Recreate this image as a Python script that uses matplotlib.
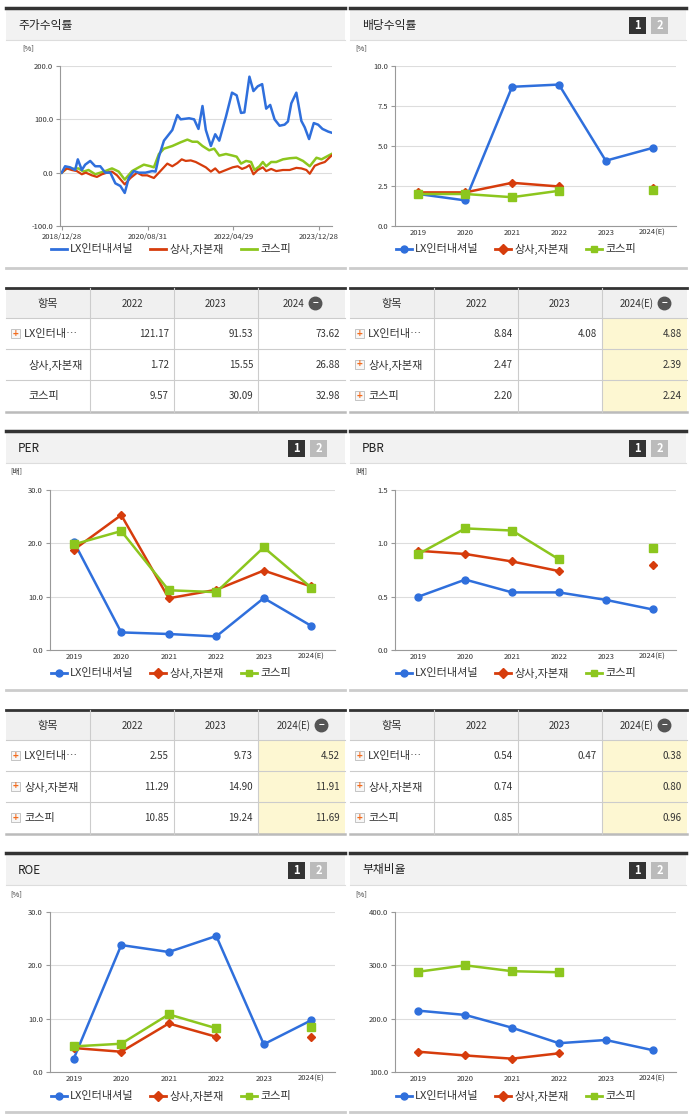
import numpy as np
import matplotlib
matplotlib.use('Agg')
import matplotlib.pyplot as plt
from matplotlib.patches import Rectangle

plt.rcParams['font.family'] = ['Noto Sans CJK KR', 'DejaVu Sans']

W, H = 691, 1115
BLUE, RED, GREEN = '#2f6fdc', '#d63c0c', '#8cc61e'
NAMES = ['LX인터내셔널', '상사,자본재', '코스피']

# 주가수익률 (zoomed-pixel x -> month index, values in %)
bx = [190,200,215,230,238,250,260,275,290,305,320,335,350,365,378,390,405,420,440,460,470,480,495,510,520,535,545,570,585,598,610,620,635,648,660,680,698,712,725,735,750,762,775,788,800,812,825,840,855,865,875,890,905,915,928,942,955,968,985,995]
by = [0,12,10,5,25,5,15,22,12,12,0,0,-20,-25,-38,-10,3,0,0,3,2,30,60,72,80,108,100,102,100,82,125,80,50,72,60,105,150,145,112,113,180,153,162,166,120,127,100,88,90,96,130,150,97,85,63,93,90,82,77,75]
rx = [190,205,220,235,250,262,280,295,310,325,340,355,378,395,415,430,445,465,480,505,520,535,548,560,575,590,605,620,635,648,660,680,700,715,728,740,750,762,775,790,800,815,830,850,870,890,905,920,930,945,960,975,995]
ry = [0,8,5,3,-3,0,-5,-8,-3,0,2,-5,-22,-10,0,-5,-5,-10,0,17,12,18,25,22,23,20,15,10,2,8,0,5,10,12,7,10,14,-3,5,10,3,7,3,5,5,9,8,5,-2,13,17,20,32]
gx = [190,205,220,240,255,270,290,305,320,340,360,378,400,420,435,455,465,480,495,520,545,565,580,595,610,630,645,660,680,700,712,725,740,755,765,780,790,800,815,830,850,870,890,910,930,950,965,980,995]
gy = [0,8,7,8,2,5,-3,0,3,8,2,-13,3,10,15,12,10,35,45,50,57,62,58,58,50,42,45,32,35,32,30,17,22,20,5,12,20,12,20,20,25,27,28,22,12,28,25,30,35]
ret_ticks = ['2018/12/28', '2020/08/31', '2022/04/29', '2023/12/28']

years = ['2019', '2020', '2021', '2022', '2023', '2024(E)']
nan = np.nan
div = [[2.0, 1.6, 8.7, 8.84, 4.08, 4.88], [2.1, 2.1, 2.7, 2.47, nan, 2.39], [2.0, 2.0, 1.8, 2.2, nan, 2.24]]
per = [[20.3, 3.3, 3.0, 2.55, 9.73, 4.52], [18.8, 25.3, 9.7, 11.29, 14.90, 11.91], [19.8, 22.3, 11.2, 10.85, 19.24, 11.69]]
pbr = [[0.50, 0.66, 0.54, 0.54, 0.47, 0.38], [0.93, 0.90, 0.83, 0.74, nan, 0.80], [0.90, 1.14, 1.12, 0.85, nan, 0.96]]
roe = [[2.5, 23.8, 22.5, 25.5, 5.2, 9.7], [4.5, 3.8, 9.1, 6.6, nan, 6.6], [4.8, 5.3, 10.8, 8.2, nan, 8.5]]
debt = [[215, 207, 183, 154, 160, 141], [138, 131, 125, 135, nan, nan], [288, 300, 289, 287, nan, nan]]

tab_ret = (['2022', '2023', '2024'], ['LX인터내…', '상사,자본재', '코스피'],
           [['121.17', '91.53', '73.62'], ['1.72', '15.55', '26.88'], ['9.57', '30.09', '32.98']])
tab_div = (['2022', '2023', '2024(E)'], ['LX인터내…', '상사,자본재', '코스피'],
           [['8.84', '4.08', '4.88'], ['2.47', '', '2.39'], ['2.20', '', '2.24']])
tab_per = (['2022', '2023', '2024(E)'], ['LX인터내…', '상사,자본재', '코스피'],
           [['2.55', '9.73', '4.52'], ['11.29', '14.90', '11.91'], ['10.85', '19.24', '11.69']])
tab_pbr = (['2022', '2023', '2024(E)'], ['LX인터내…', '상사,자본재', '코스피'],
           [['0.54', '0.47', '0.38'], ['0.74', '', '0.80'], ['0.85', '', '0.96']])

fig = plt.figure(figsize=(W / 100, H / 100), dpi=100)
bg = fig.add_axes([0, 0, 1, 1])
bg.set_xlim(0, W); bg.set_ylim(H, 0); bg.axis('off')


def px_axes(x0, y0, x1, y1):
    return fig.add_axes([x0 / W, 1 - y1 / H, (x1 - x0) / W, (y1 - y0) / H])


def panel(x0, x1, y0, y1, title, buttons=True):
    bg.add_patch(Rectangle((x0, y0), x1 - x0, 32, color='#f2f2f2', lw=0))
    bg.plot([x0, x1], [y0, y0], color='#333333', lw=2.5)
    bg.plot([x0, x1], [y0 + 32, y0 + 32], color='#dddddd', lw=0.8)
    bg.plot([x0, x1], [y1, y1], color='#cccccc', lw=2)
    bg.text(x0 + 12, y0 + 17, title, fontsize=8.5, va='center', color='#222222')
    if buttons:
        bg.add_patch(Rectangle((x1 - 57, y0 + 9), 17, 17, color='#333333', lw=0))
        bg.text(x1 - 48.5, y0 + 17.5, '1', color='white', fontsize=8, ha='center', va='center', weight='bold')
        bg.add_patch(Rectangle((x1 - 35, y0 + 9), 17, 17, color='#bbbbbb', lw=0))
        bg.text(x1 - 26.5, y0 + 17.5, '2', color='white', fontsize=8, ha='center', va='center', weight='bold')


def legend2(xc, y, markers):
    widths = [70, 62, 32]
    x = xc - 124
    for name, c, m, w in zip(NAMES, [BLUE, RED, GREEN], markers, widths):
        bg.plot([x, x + 16], [y, y], color=c, lw=2)
        if m:
            bg.plot(x + 8, y, marker=m, color=c, ms=5)
        bg.text(x + 19, y, name, fontsize=8, va='center', color='#333333')
        x += 19 + w + 10


def style(ax, ylim, ticks, fmt, unit):
    ax.set_ylim(*ylim)
    ax.set_yticks(ticks)
    ax.set_yticklabels([fmt % t for t in ticks], fontsize=5.5, color='#333333')
    ax.grid(axis='y', color='#dddddd', lw=0.8)
    ax.set_axisbelow(True)
    for s in ['top', 'right']:
        ax.spines[s].set_visible(False)
    ax.spines['left'].set_color('#999999')
    ax.spines['bottom'].set_color('#999999')
    ax.tick_params(length=3, color='#999999', pad=2)
    ax.set_facecolor('none')
    ax.text(-0.14, 1.1, unit, transform=ax.transAxes, fontsize=5.5, color='#333333')


def yearly(x0, y0, x1, y1, data, ylim, ticks, fmt, unit):
    ax = px_axes(x0, y0, x1, y1)
    for vals, c, m, ms in zip(data, [BLUE, RED, GREEN], ['o', 'D', 's'], [5, 4, 5.5]):
        ax.plot(range(6), vals, color=c, lw=1.8, marker=m, ms=ms, zorder=3)
    ax.set_xlim(-0.5, 5.5)
    ax.set_xticks(range(6))
    ax.set_xticklabels(years, fontsize=5.5, color='#333333')
    style(ax, ylim, ticks, fmt, unit)
    ax.tick_params(axis='x', length=0)
    return ax


def table(x0, y0, tab, hl):
    cols, rows, vals = tab
    x1 = x0 + 337 if x0 > 300 else 345
    xs = [x0, x0 + 84, x0 + 168, x0 + 252, x1]
    bg.add_patch(Rectangle((x0, y0), x1 - x0, 30, color='#f0f0f0', lw=0))
    if hl:
        bg.add_patch(Rectangle((xs[3], y0 + 30), x1 - xs[3], 94, color='#fdf7d2', lw=0))
    bg.plot([x0, x1], [y0, y0], color='#333333', lw=2)
    for k in range(1, 4):
        bg.plot([x0, x1], [y0 + 30 + 31 * (k - 1)] * 2, color='#cccccc', lw=0.8)
    bg.plot([x0, x1], [y0 + 124, y0 + 124], color='#bbbbbb', lw=1.8)
    for xv in xs[1:4]:
        bg.plot([xv, xv], [y0, y0 + 124], color='#cccccc', lw=0.8)
    bg.text((xs[0] + xs[1]) / 2, y0 + 16, '항목', fontsize=8, ha='center', va='center', color='#333333')
    for j, c in enumerate(cols):
        xc = (xs[j + 1] + xs[j + 2]) / 2
        if j == 2:
            xc -= 8
            bx_ = xc + 28 if len(c) > 4 else xc + 22
            bg.plot(bx_, y0 + 15, 'o', ms=9, color='#555555')
            bg.text(bx_, y0 + 15, '−', color='white', fontsize=7, ha='center', va='center', weight='bold')
        bg.text(xc, y0 + 16, c, fontsize=7, ha='center', va='center', color='#333333')
    for i, (r, v) in enumerate(zip(rows, vals)):
        yc = y0 + 30 + 31 * i + 16
        plus = hl or i == 0
        if plus:
            bg.add_patch(Rectangle((x0 + 5, yc - 5), 9, 9, facecolor='#f7f7f7', edgecolor='#bbbbbb', lw=0.6))
            bg.text(x0 + 9.5, yc - 0.5, '+', color='#f26b1d', fontsize=7, ha='center', va='center', weight='bold')
        bg.text(x0 + 18 if plus else x0 + 22, yc, r, fontsize=8, va='center', color='#333333')
        for j, t in enumerate(v):
            bg.text(xs[j + 2] - 5, yc, t, fontsize=7, ha='right', va='center', color='#333333')


# panels
panel(6, 345, 8, 268, '주가수익률', buttons=False)
panel(350, 686, 8, 268, '배당수익률')
panel(6, 345, 431, 690, 'PER')
panel(350, 686, 431, 690, 'PBR')
panel(6, 345, 853, 1112, 'ROE')
panel(350, 686, 853, 1112, '부채비율')

# 주가수익률 chart
ax = px_axes(60, 66, 332, 226)
conv = lambda xs: [(v - 190) / 12.8 for v in xs]
ax.plot(conv(gx), gy, color=GREEN, lw=1.8)
ax.plot(conv(rx), ry, color=RED, lw=1.6)
ax.plot(conv(bx), by, color=BLUE, lw=1.8)
ax.set_xlim(-0.4, 63)
ax.set_xticks([0, 20, 40, 60])
ax.set_xticklabels(ret_ticks, fontsize=5.5, color='#333333')
style(ax, (-100, 200), [-100, 0, 100, 200], '%.1f', '[%]')
legend2(175, 249, [None, None, None])

# yearly charts
yearly(395, 66, 676, 226, div, (0, 10), [0, 2.5, 5, 7.5, 10], '%.1f', '[%]')
legend2(520, 249, ['o', 'D', 's'])
yearly(50, 490, 335, 650, per, (0, 30), [0, 10, 20, 30], '%.1f', '[배]')
legend2(175, 673, ['o', 'D', 's'])
yearly(395, 490, 676, 650, pbr, (0, 1.5), [0, 0.5, 1.0, 1.5], '%.1f', '[배]')
legend2(520, 673, ['o', 'D', 's'])
yearly(50, 912, 335, 1072, roe, (0, 30), [0, 10, 20, 30], '%.1f', '[%]')
legend2(175, 1096, ['o', 'D', 's'])
yearly(395, 912, 676, 1072, debt, (100, 400), [100, 200, 300, 400], '%.1f', '[%]')
legend2(520, 1096, ['o', 'D', 's'])

# tables
table(6, 288, tab_ret, False)
table(350, 288, tab_div, True)
table(6, 710, tab_per, True)
table(350, 710, tab_pbr, True)

fig.savefig('out.png', dpi=100)
